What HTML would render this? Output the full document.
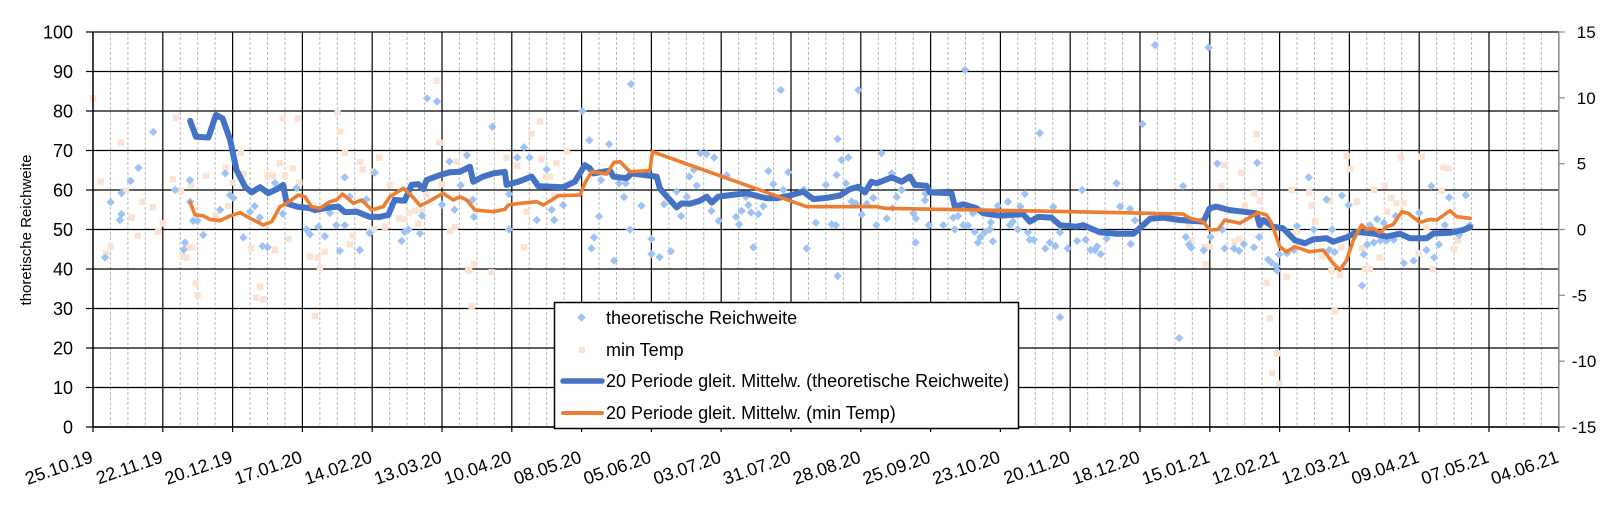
<!DOCTYPE html>
<html><head><meta charset="utf-8"><style>
html,body{margin:0;padding:0;background:#fff;}
svg{display:block;font-family:"Liberation Sans",Arial,sans-serif;}
</style></head><body>
<svg id="chart" width="1622" height="507" viewBox="0 0 1622 507" xmlns="http://www.w3.org/2000/svg">
<g id="grid"></g>
<g id="scatterT"></g>
<g id="scatterR"></g>
<g id="lines"></g>
<g id="axes"></g>
<text x="0" y="0" transform="translate(31,230) rotate(-90)" text-anchor="middle" font-size="15" fill="#000">thoretische Reichweite</text>
<g id="legend">
  <rect x="554.5" y="302.5" width="464" height="126" fill="#fff" stroke="#000" stroke-width="1.5"/>
  <g>
    <rect x="578.5" y="314.5" width="6" height="6" transform="rotate(45 581.5 317.5)" fill="#9DC3F5"/>
    <text x="606" y="324" font-size="18">theoretische Reichweite</text>
  </g>
  <g>
    <rect x="579" y="347" width="6" height="6" fill="#FBE3D4"/>
    <text x="606" y="356" font-size="18">min Temp</text>
  </g>
  <g>
    <line x1="563" y1="381" x2="602" y2="381" stroke="#4472C4" stroke-width="5.5" stroke-linecap="round"/>
    <text x="606" y="387" font-size="18">20 Periode gleit. Mittelw. (theoretische Reichweite)</text>
  </g>
  <g>
    <line x1="563" y1="413" x2="602" y2="413" stroke="#ED7D31" stroke-width="4" stroke-linecap="round"/>
    <text x="606" y="419" font-size="18">20 Periode gleit. Mittelw. (min Temp)</text>
  </g>
</g>
</svg>
<script>
// x-axis category labels (every 28 days starting 25.10.19)
const xTickLabels = ["25.10.19","22.11.19","20.12.19","17.01.20","14.02.20","13.03.20","10.04.20","08.05.20","05.06.20","03.07.20","31.07.20","28.08.20","25.09.20","23.10.20","20.11.20","18.12.20","15.01.21","12.02.21","12.03.21","09.04.21","07.05.21","04.06.21"];
const leftTicks = [0,10,20,30,40,50,60,70,80,90,100];
const rightTicks = [-15,-10,-5,0,5,10,15];

// moving average - theoretische Reichweite (days since 25.10.19, value)
const maRDays = [39,41.3,46.3,49.3,52,55,57.6,61,63.6,67,70.3,73.7,76.3,77.7,81.7,87,89,95,98.4,101,105.8,111,115,118.5,121,125,127.8,130.5,132.5,133.8,139.2,143.2,147.2,151.2,152.5,156.5,160.6,165.2,165.9,170.6,176,178.6,184,188.6,193.3,197.3,199.3,200.7,207.4,208.7,214,216,223.4,226.1,227.4,230.8,234.1,236.1,239.5,243.5,246.2,248.2,250.8,255.5,262.2,264.9,270.2,274.2,279.6,284.9,289,294.3,299.6,303.6,307,309.7,312.3,314.3,320.4,324.4,327.7,329.7,334.4,335.7,344.4,345.7,349.1,354.4,357.1,363.8,373.1,375.8,379.2,384.5,387.9,394.6,397.2,403.9,410.6,417.3,420.6,424,429.3,436,440,445.4,448,450.7,456,461.4,466.7,468,469.4,473.4,477.4,482.1,486.1,489.5,494.8,497.5,502.9,506.9,513.6,518.9,524.3,528.3,535,537.7,544.4,549.8,552.4];
const maRValues = [77.5,73.5,73.3,79,78.1,72.7,65,60.8,59.4,60.7,59.2,60.2,61.3,56.6,55.8,55.4,54.9,55.6,55.8,54.4,54.5,53.2,53.2,53.7,57.5,57.3,61.3,61.5,60.2,62.5,63.8,64.5,64.6,65.9,62.1,63.4,64.2,64.6,61.3,62.1,63.4,61,60.8,60.7,62.1,66.3,65.5,64.2,64.9,63.4,63,64.2,63.6,63.4,60.4,57.9,55.6,56.6,56.5,57.3,58.3,56.8,58.3,58.7,59.2,58.7,57.9,57.9,58.6,59.6,57.7,58,58.6,60.2,60.8,59.4,62.1,61.7,63.2,62.1,63.4,61.3,61.1,59.4,59.2,55.8,56.4,55.4,54.1,53.5,53.9,52,53.2,53,51.1,50.7,51.1,49.3,48.9,48.9,50.7,52.7,53,52.4,52.2,52,55.4,55.8,54.9,54.5,54.1,51.1,52.4,50.7,50.3,47.3,46.5,47.5,47.8,46.9,48,49.4,49,48.2,48.9,47.8,47.8,49,49.2,49.9,50.6];

// moving average - min Temp (days, deg C)
const maTDays = [39,40.9,44.2,46.9,50.9,55,59,63,68.3,71.7,75,77.7,82.3,85,87.7,91,95,97.6,100.1,104.4,107.8,111.8,116.4,119.1,124.5,127.8,131.2,134.5,140.5,144.5,147.2,149.9,153.2,160.6,165.2,166.6,171.3,178,180.6,184,186.6,195.3,197.3,200,206,209,211.4,213.4,215.4,223.4,224.4,286.3,299.6,314.3,318,380,437.3,440,445.4,448,451.3,454,460,463.4,467.4,470.8,472.8,476.1,478.8,482.1,488.1,493.5,497.5,500.2,502.9,505.6,508.9,510.9,513.6,516.3,518.9,521.6,525,527.6,532.3,536.4,539,544.4,547.1,552.4];
const maTValues = [2.07,1.1,1.05,0.77,0.67,1.03,1.28,0.85,0.34,0.59,1.73,1.99,2.62,2.49,1.73,1.61,2.11,2.24,2.7,1.99,2.24,1.48,1.73,2.49,3.13,2.57,1.81,2.11,2.75,2.24,2.49,2.24,1.48,1.35,1.53,1.86,1.99,2.11,1.86,2.24,2.57,2.62,3.51,4.39,4.21,5.1,5.15,4.77,4.39,4.47,5.91,1.73,1.73,1.73,1.6,1.4,1.18,0.85,0.59,-0.04,0.01,0.72,0.47,0.85,1.28,1.1,0.47,-1.31,-1.69,-1.31,-1.69,-1.56,-2.57,-3.08,-2.32,-0.8,0.34,0.01,0.09,-0.24,0.21,0.39,1.35,1.23,0.55,0.77,0.72,1.43,0.97,0.85];

// scatter - theoretische Reichweite
const ptRDays = [4.8,7.1,10.8,11.4,11.4,15.1,18.2,24.2,32.9,36.9,36.4,38.9,40.2,41.9,44.2,39,53,51,55,56.3,60.3,63,64.9,66.9,68,70,73,76.2,81.7,85.7,87,90.4,93,95,97.6,99,101,101,103,107,109.7,111,113,123.8,125,126.5,131.2,132,134,138,140,143,145,147.5,150,152.3,152.8,160.2,166.9,166.9,170.2,172.9,175.1,178,182,184,185,188.6,196.3,199.1,200,201,203,203.8,207,209,211,213,213.7,215.4,215.8,220,224,224,227.3,229.1,231.8,234.1,235.9,238.2,239.2,241,242.2,243.7,246.1,248.1,249.2,251,254.2,257.9,259.2,260.2,261.9,262.9,264,264.9,266.9,268.9,270.9,272.9,275.9,276.9,278.9,285.2,286.3,290,294,296.3,298.3,298.7,298.7,298,300.3,302,303,304.3,306,307,308.4,310.4,313,314.3,316.3,318.4,320.4,320.8,322.4,324.4,329.1,330,330.1,333.7,334,335.3,341.1,345.1,345.7,347,349.1,349.8,351,353,353.7,355,356,357.7,359.7,360.2,361,363,367,367.8,369,371,372,373.8,375,375.8,377.4,379.8,382,383.8,385.2,386.1,387.9,387.9,391,394.8,396.8,398.2,400.2,401.9,402.8,404.2,406.6,410.6,412,416,416.3,418,421,426,435.7,437.3,438.4,439.7,440.6,445.6,447.5,448.3,451,453,454,457.7,459.8,461.7,465.7,467,467.8,471.4,472.8,474.8,475,475.8,479,481.7,483,487.7,489.7,494.8,495.9,497.1,498.1,501,503.7,509.1,509.8,511.1,512.2,513.8,515.1,516.5,517.8,518.9,521.8,522.6,525.8,529.8,532,534.9,536.9,538,539.9,542.3,544,548,550.7,552.3];
const ptRValues = [42.9,56.9,52.4,53.9,59.2,62.3,65.6,74.7,60,46.7,44.9,62.5,52.2,52.2,48.6,57,64.2,55,58.7,58,48,54.5,55.9,53,45.8,45.5,61.8,54,60.5,50,48.8,50.7,48.3,54.2,51.1,44.6,63.2,51.1,58.3,44.8,57.6,49.1,64.4,47.1,49.4,50,49,53.5,83.2,82.4,56.3,67.2,55,61.2,68.8,57.5,53.2,76,50,59,68.2,70.8,68.2,52.4,65.2,55,52.4,56.2,80,72.6,45.2,48,53.3,62.5,71.6,42.1,61.7,58.2,61.7,50,86.8,56,47.6,43.8,43,56.4,44.5,59.6,53.4,58.3,63.4,65.1,61.1,69.3,69.1,54.7,68.2,52.2,63.7,53.2,51.3,54.7,58.3,56.2,54.3,45.5,53.9,55.9,64.8,61.5,85.3,60,64.5,60,45.2,51.7,61.3,51.3,63.8,38.2,72.9,51.1,67.6,61.7,68.2,57.1,56.6,85.3,53.8,56.5,58,51.1,69.3,52.8,64.2,55.4,58.2,60,54.1,46.7,52.8,57.4,59.1,51.1,51.1,53,50,53.4,51.1,90.4,51,54.1,49.4,46.7,48.1,49.3,50,51.8,47,56,57,51.1,52,50,55.8,59,49.3,47.4,47.4,74.4,45.2,46.7,55.7,45.8,49.3,27.8,45.2,47.1,60,47.4,44.8,44.8,45.7,43.8,47.7,61.7,55.8,55.2,46.3,52.3,76.7,96.7,22.5,61,48.1,46.2,45.4,44.7,96.1,48.1,66.7,50,45.2,45.2,44.6,46.3,45.5,66.9,48.1,42.4,41.6,40.7,39.6,43.7,44,44.8,50.9,63.2,50,57.6,44.8,50,44.3,58.6,56.2,35.8,43.7,46.2,51.1,46.7,52.6,47.2,51.7,47.2,47.4,53.4,41.5,42.1,54.2,44.8,61,42.9,46.2,51.1,58.1,48.6,58.7,51.1];

// scatter - min Temp
const ptTDays = [0.1,3.1,5.2,7.1,11.1,13.2,15.5,17.9,19.8,24,26.2,28,33.3,32,35.3,39.3,36,37.6,38.5,40,41.3,42,45.3,49.3,53.2,54.3,56,59.3,60.3,63.4,65.4,67,68.3,70.1,72.1,73,75,76.1,77,78.4,80.1,82.1,82.8,87,89,90.1,91,93,98.1,99.1,101.1,103.1,104.2,107.1,108.2,112.2,111.1,112.8,114.8,117.1,119.1,122.9,125,126.8,129.2,130.5,132.1,133.8,137.8,138.9,139.9,143.2,145.2,145.9,150.5,150.9,151.9,152.8,159.9,165.9,170.2,172.9,173.9,175.9,179.3,179.9,181.7,183.3,185.9,190.1,185,439.7,440.8,446,446.3,448,452.7,453.7,460.7,459.8,458,462.1,466.8,465.9,468.1,470.8,472.1,473,475,476,478.8,480.8,482.8,487.9,488.8,490.2,492.8,496.2,496.8,498.1,500.2,500.8,502.9,504.2,506.9,509.1,510.2,512.2,513.9,516.1,518.1,519,520.8,522.8,524.8,525.8,531.7,533,535,537.4,541,541.7,543.7,546,547.6];
const ptTValues = [9.96,3.63,-1.81,-1.3,6.59,2.95,0.9,-0.47,2.11,1.69,-0.17,0.47,8.49,3.81,2.92,3.38,-2.06,-2.14,-1.38,-1.38,-4.09,-5.02,4.08,1.1,4.69,1.78,3.56,5.83,4.21,-1.43,-5.18,-4.34,-5.3,4.08,4.08,-1.56,5.03,8.44,4.08,-0.72,4.64,8.44,3.56,-2.06,-6.57,-2.14,-2.9,-1.68,8.87,7.43,5.83,-1.13,-0.47,5.15,4.57,4.39,-0.17,0.01,5.45,0.21,3.38,0.85,0.77,1.28,1.43,0.42,1.35,2.67,11.3,6.59,3.43,-0.11,0.17,5.15,-3.08,-3.13,-5.81,-2.64,-3.25,5.45,4.84,-1.35,1.35,7.25,8.19,5.33,4.01,4.01,5.03,5.91,2.57,0.38,-0.92,-1.35,-2.64,-1.3,3.3,4.9,4.31,-0.72,-0.92,1.78,7.25,2.75,2.19,-4.04,-6.75,-10.9,-9.4,-11.7,-3.58,3,-0.17,2.8,1.81,0.59,-2.06,2.19,-3.08,-6.19,-3.45,-1.35,5.58,4.59,2.11,-1.43,-3.02,-3,3,-2.14,3.33,1.35,2.41,1.99,5.45,1.99,-1.81,5.53,0.17,-3.02,2.95,4.72,4.64,-1.48,-0.85];

const NS = "http://www.w3.org/2000/svg";
const X0 = 93, PX_PER_DAY = 69.8/28, YB = 427, YT = 32;
function xS(d){ return X0 + d*PX_PER_DAY; }
function yL(v){ return YB - (v/100)*(YB-YT); }
function yR(t){ return YB - ((t+15)/30)*(YB-YT); }
function mk(tag, attrs, parent){
  const e = document.createElementNS(NS, tag);
  for (const k in attrs) e.setAttribute(k, attrs[k]);
  parent.appendChild(e);
  return e;
}
const grid = document.getElementById('grid');
const axes = document.getElementById('axes');
const totalDays = (xTickLabels.length-1)*28;
for (let d=7; d<totalDays; d+=7){
  if (d%28===0) continue;
  const l = mk('line',{x1:xS(d),x2:xS(d),y1:YT,y2:YB,stroke:'#b8b8b8','stroke-width':1,'stroke-dasharray':'3,2'},grid);
  
  
}
leftTicks.forEach(v=>{
  const l = mk('line',{x1:X0,x2:xS(totalDays),y1:yL(v),y2:yL(v),stroke:'#000','stroke-width':1.2},grid);
  
  
  const t = mk('line',{x1:86,x2:X0,y1:yL(v),y2:yL(v),stroke:'#000','stroke-width':1.2},axes);
  
  
  const tx = mk('text',{x:73,y:yL(v)+6.5,'text-anchor':'end','font-size':18,fill:'#000'},axes);
  tx.textContent = v;
  
  
});
xTickLabels.forEach((lab,i)=>{
  const x = xS(i*28);
  if (i>0 && i<xTickLabels.length-1){
    const l = mk('line',{x1:x,x2:x,y1:YT,y2:YB,stroke:'#000','stroke-width':1.2},grid);
    
    
  }
  const t = mk('line',{x1:x,x2:x,y1:YB,y2:YB+5,stroke:'#000','stroke-width':1.2},axes);
  
  
  const tx = mk('text',{x:0,y:0,'text-anchor':'end','font-size':18,fill:'#000',transform:`translate(${x+1},${YB+35}) rotate(-19)`},axes);
  tx.textContent = lab;
  
  
});
const la = mk('line',{x1:X0,x2:X0,y1:YT,y2:YB,stroke:'#000','stroke-width':1.5},axes);


const ba = mk('line',{x1:X0,x2:xS(totalDays),y1:YB,y2:YB,stroke:'#000','stroke-width':1.5},axes);


const XR = xS(totalDays);
const ra = mk('line',{x1:XR,x2:XR,y1:YT,y2:YB,stroke:'#888','stroke-width':1.5},axes);


rightTicks.forEach(t=>{
  const tk = mk('line',{x1:XR,x2:XR+6,y1:yR(t),y2:yR(t),stroke:'#888','stroke-width':1.2},axes);
  
  
  const tx = mk('text',{x:XR+(t<0?13:18),y:yR(t)+6,'text-anchor':'start','font-size':17,fill:'#000'},axes);
  tx.textContent = t<0 ? '-'+Math.abs(t) : t;
  
  
});
const sT = document.getElementById('scatterT');
ptTDays.forEach((d,i)=>{
  const x = xS(d), y = yR(ptTValues[i]);
  const r = mk('rect',{x:x-3.2,y:y-3.2,width:6.4,height:6.4,fill:'#FBE3D4'},sT);
  
  
});
const sR = document.getElementById('scatterR');
ptRDays.forEach((d,i)=>{
  const x = xS(d), y = yL(ptRValues[i]);
  const p = mk('polygon',{points:`${x},${y-4.2} ${x+4.2},${y} ${x},${y+4.2} ${x-4.2},${y}`,fill:'#9DC3F5'},sR);
  
  
});
const lines = document.getElementById('lines');
const pr = maRDays.map((d,i)=>`${xS(d).toFixed(1)},${yL(maRValues[i]).toFixed(1)}`).join(' ');
const lr = mk('polyline',{points:pr,fill:'none',stroke:'#4472C4','stroke-width':6,'stroke-linejoin':'round','stroke-linecap':'round'},lines);


const pt = maTDays.map((d,i)=>`${xS(d).toFixed(1)},${yR(maTValues[i]).toFixed(1)}`).join(' ');
const lt = mk('polyline',{points:pt,fill:'none',stroke:'#ED7D31','stroke-width':3.6,'stroke-linejoin':'round','stroke-linecap':'round'},lines);


</script>
</body></html>
